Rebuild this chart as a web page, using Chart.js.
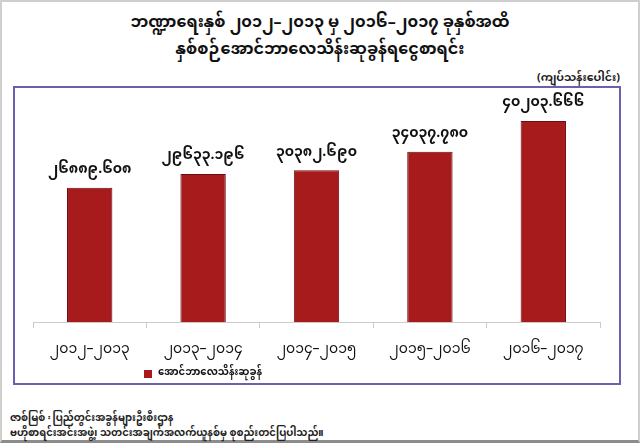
<!DOCTYPE html>
<html>
<head>
<meta charset="utf-8">
<script src="https://cdn.jsdelivr.net/npm/chart.js@4"></script>
<style>
  html, body { margin: 0; padding: 0; background: #fff; }
  body { width: 640px; height: 443px; position: relative; overflow: hidden;
         font-family: "Noto Sans Myanmar", "Padauk", "Myanmar Text", "Noto Sans", sans-serif; }
  .frame { position: absolute; left: 0; top: 0; width: 636px; height: 438px;
           border: 2px solid #cfcfcf; border-bottom: 3px solid #8c8c8c; }
  .title { position: absolute; left: 0; width: 640px; text-align: center;
           font-weight: bold; font-size: 16px; color: #111; }
  .unit { position: absolute; right: 20px; top: 66px; font-size: 11px; font-weight: bold; color: #222; }
  .box { position: absolute; left: 13px; top: 86px; width: 604px; height: 295px;
         border: 2px solid #6c5fb0; background: #fff; }
  .foot { position: absolute; left: 10px; font-size: 10px; font-weight: bold; color: #222; }
  canvas { position: absolute; left: 0; top: 0; }
</style>
</head>
<body>
<div class="frame"></div>
<div class="title" style="top:6px">ဘဏ္ဍာရေးနှစ် ၂၀၁၂–၂၀၁၃ မှ ၂၀၁၆–၂၀၁၇ ခုနှစ်အထိ</div>
<div class="title" style="top:33px">နှစ်စဉ်အောင်ဘာလေသိန်းဆုခွန်ရငွေစာရင်း</div>
<div class="unit">(ကျပ်သန်းပေါင်း)</div>
<div class="box"></div>
<div class="foot" style="top:408px">ဇာစ်မြစ် ፡ ပြည်တွင်းအခွန်များဦးစီးဌာန</div>
<div class="foot" style="top:423px">ဗဟိုစာရင်းအင်းအဖွဲ့၊ သတင်းအချက်အလက်ယူနစ်မှ စုစည်းတင်ပြပါသည်။</div>
<div style="position:absolute;left:0;top:0;width:640px;height:443px">
  <canvas id="myChart" width="640" height="443"></canvas>
</div>
<script>
document.addEventListener('DOMContentLoaded', function () {
  // Fiscal years (x axis)
  const years = ['၂၀၁၂–၂၀၁၃', '၂၀၁၃–၂၀၁၄', '၂၀၁၄–၂၀၁၅', '၂၀၁၅–၂၀၁၆', '၂၀၁၆–၂၀၁၇'];
  // Lottery tax revenue, kyat millions
  const revenue = [26889.608, 29633.196, 30382.690, 34037.780, 40203.666];
  const seriesName = 'အောင်ဘာလေသိန်းဆုခွန်';

  const mmDigits = '၀၁၂၃၄၅၆၇၈၉';
  const toMM = s => s.replace(/\d/g, d => mmDigits[d]);
  const mmFont = '"Noto Sans Myanmar", "Padauk", "Myanmar Text", "Noto Sans", sans-serif';

  const barRed = '#a81b1d';

  // value labels above each bar
  const valueLabels = {
    id: 'valueLabels',
    afterDatasetsDraw(chart) {
      const ctx = chart.ctx;
      const meta = chart.getDatasetMeta(0);
      ctx.save();
      ctx.fillStyle = '#111';
      ctx.font = 'bold 14px ' + mmFont;
      ctx.textAlign = 'center';
      ctx.textBaseline = 'middle';
      meta.data.forEach((bar, i) => {
        ctx.fillText(toMM(revenue[i].toFixed(3)), bar.x, bar.y - 16);
      });
      ctx.restore();
    }
  };

  // small legend under the axis labels, left of centre
  const smallLegend = {
    id: 'smallLegend',
    afterDraw(chart) {
      const ctx = chart.ctx;
      const x = chart.chartArea.left + 111;
      const y = 374;
      ctx.save();
      ctx.fillStyle = barRed;
      ctx.fillRect(x, y - 4, 8, 8);
      ctx.fillStyle = '#111';
      ctx.font = 'bold 10px ' + mmFont;
      ctx.textBaseline = 'middle';
      ctx.fillText(seriesName, x + 14, y);
      ctx.restore();
    }
  };

  const ctx = document.getElementById('myChart').getContext('2d');
  new Chart(ctx, {
    type: 'bar',
    data: {
      labels: years,
      datasets: [{
        label: seriesName,
        data: revenue,
        backgroundColor: function (c) {
          const area = c.chart.chartArea;
          const el = c.element;
          if (!area || !el || el.width === undefined) return barRed;
          const g = c.chart.ctx.createLinearGradient(el.x - el.width / 2, 0, el.x + el.width / 2, 0);
          g.addColorStop(0, '#8e1416');
          g.addColorStop(0.25, '#b3201f');
          g.addColorStop(0.8, '#a81b1d');
          g.addColorStop(1, '#7a1012');
          return g;
        },
        borderColor: '#6b0d0f',
        borderWidth: 1,
        barPercentage: 0.8,
        categoryPercentage: 0.5
      }]
    },
    options: {
      responsive: false,
      animation: false,
      layout: { padding: { left: 33, right: 40, top: 97, bottom: 68 } },
      plugins: {
        legend: { display: false },
        title: { display: false },
        tooltip: { enabled: false }
      },
      scales: {
        x: {
          grid: { display: true, drawOnChartArea: false, color: '#cccccc', tickLength: 6, offset: true },
          border: { display: true, color: '#cccccc' },
          ticks: { color: '#111', padding: 15, font: { size: 14, family: mmFont } }
        },
        y: { display: false, min: 0, max: 45000 }
      }
    },
    plugins: [valueLabels, smallLegend]
  });
});
</script>
</body>
</html>
